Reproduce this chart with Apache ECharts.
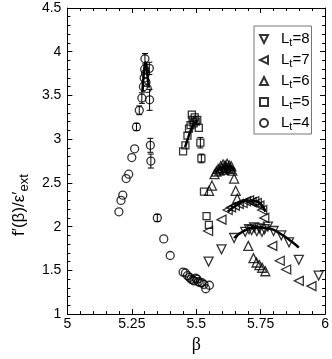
<!DOCTYPE html>
<html lang="en">
<head>
    <meta charset="UTF-8">
    <title>f'(beta)</title>
    <script type="text/javascript" src="https://cdn.jsdelivr.net/npm/echarts@6/dist/echarts.min.js"></script>
    <style>
        body { margin: 0; background: #fff; }
    </style>
</head>
<body>
<div id="main" style="width: 332px;height:359px;"></div>
<script>
    // points [beta, f'/eps']
    var lt4 = [[5.200, 2.17], [5.208, 2.30], [5.215, 2.36], [5.228, 2.55], [5.238, 2.60], [5.250, 2.79],
        [5.261, 2.89], [5.268, 3.14], [5.279, 3.33], [5.289, 3.47], [5.295, 3.60], [5.298, 3.70],
        [5.300, 3.80], [5.301, 3.92], [5.303, 3.75], [5.305, 3.65], [5.310, 3.58], [5.318, 3.81],
        [5.319, 3.45], [5.322, 2.93], [5.324, 2.75], [5.349, 2.10], [5.374, 1.86], [5.399, 1.67],
        [5.449, 1.48], [5.458, 1.47], [5.466, 1.44], [5.474, 1.42], [5.480, 1.40], [5.486, 1.39],
        [5.492, 1.38], [5.498, 1.41], [5.503, 1.40], [5.508, 1.37], [5.515, 1.36], [5.522, 1.36],
        [5.530, 1.34], [5.537, 1.29], [5.551, 1.33]];
    var lt5 = [[5.449, 2.86], [5.458, 2.93], [5.466, 3.04], [5.472, 3.12], [5.478, 3.16], [5.483, 3.28],
        [5.486, 3.22], [5.490, 3.18], [5.494, 3.25], [5.498, 3.20], [5.504, 3.22], [5.510, 3.13],
        [5.516, 2.96], [5.520, 2.78], [5.530, 2.40], [5.540, 2.12], [5.549, 2.02]];
    var lt6 = [[5.550, 2.41], [5.561, 2.47], [5.571, 2.60], [5.578, 2.63], [5.585, 2.66], [5.590, 2.64],
        [5.595, 2.69], [5.600, 2.67], [5.604, 2.71], [5.608, 2.65], [5.612, 2.70], [5.616, 2.68],
        [5.620, 2.72], [5.624, 2.67], [5.628, 2.70], [5.632, 2.66], [5.636, 2.69], [5.640, 2.64],
        [5.647, 2.55], [5.653, 2.41], [5.659, 2.32], [5.702, 1.78], [5.722, 1.64], [5.734, 1.59],
        [5.745, 1.56], [5.756, 1.53], [5.768, 1.49]];
    var lt7 = [[5.546, 1.95], [5.598, 2.08], [5.622, 2.19], [5.635, 2.22], [5.650, 2.24], [5.665, 2.26],
        [5.680, 2.27], [5.693, 2.29], [5.705, 2.30], [5.715, 2.28], [5.725, 2.29], [5.735, 2.27],
        [5.745, 2.24], [5.756, 2.19], [5.764, 2.10], [5.795, 1.78], [5.824, 1.61], [5.849, 1.51],
        [5.898, 1.38], [5.947, 1.32]];
    var lt8 = [[5.548, 1.60], [5.598, 1.74], [5.647, 1.87], [5.690, 1.94], [5.705, 1.97], [5.715, 1.96],
        [5.725, 1.99], [5.735, 1.95], [5.745, 1.98], [5.755, 1.94], [5.765, 1.97], [5.778, 2.00],
        [5.800, 1.95], [5.830, 1.90], [5.860, 1.82], [5.898, 1.62], [5.975, 1.44]];

    // fitted curves near the peaks
    var fit4 = [[5.291, 3.54], [5.297, 3.76], [5.303, 3.88], [5.309, 3.78], [5.316, 3.59]];
    var fit5 = [[5.457, 2.91], [5.470, 3.03], [5.483, 3.13], [5.495, 3.19], [5.506, 3.21]];
    var fit6 = [[5.575, 2.62], [5.595, 2.67], [5.615, 2.69], [5.635, 2.68], [5.650, 2.65]];
    var fit7 = [[5.622, 2.17], [5.659, 2.25], [5.696, 2.30], [5.733, 2.29], [5.769, 2.17]];
    var fit8 = [[5.647, 1.87], [5.684, 1.95], [5.733, 1.99], [5.782, 1.98], [5.831, 1.91], [5.870, 1.83], [5.898, 1.76]];

    // error bars [beta, low, high]
    var errBars = [[5.268, 3.10, 3.18], [5.279, 3.28, 3.38], [5.289, 3.41, 3.53], [5.301, 3.86, 3.98],
        [5.318, 3.74, 3.88], [5.319, 3.33, 3.57], [5.322, 2.85, 3.01], [5.324, 2.67, 2.83],
        [5.349, 2.06, 2.14], [5.516, 2.90, 3.02], [5.520, 2.73, 2.83]];

    var legendNames = ['L=8', 'L=7', 'L=6', 'L=5', 'L=4'];
    var symbols = [
        'path://M0,0L10,0L5,10Z',    // down
        'path://M10,0L10,10L0,5Z',   // left
        'path://M5,0L10,10L0,10Z',   // up
        'rect',
        'circle'
    ];

    var hollow = {color: 'rgba(0,0,0,0)', borderColor: '#000', borderWidth: 1.3};

    function pts(i, data, size) {
        return {
            name: legendNames[i], type: 'scatter', data: data, symbol: symbols[i],
            symbolSize: size, itemStyle: hollow, z: 3
        };
    }
    function fit(data) {
        return {
            type: 'line', data: data, showSymbol: false, smooth: true, silent: true,
            lineStyle: {color: '#000', width: 2.5}, z: 4
        };
    }

    var axisCommon = {
        min: 1, max: 4.5, interval: 0.5,
        axisLine: {lineStyle: {color: '#000', width: 1}},
        axisTick: {inside: true, length: 5, lineStyle: {color: '#000'}},
        minorTick: {show: true, splitNumber: 5, length: 3, lineStyle: {color: '#000'}},
        splitLine: {show: false}
    };

    var option = {
        animation: false,
        backgroundColor: '#fff',
        grid: {left: 54, right: 6, top: 8, bottom: 42},
        legend: {
            data: legendNames,
            orient: 'vertical',
            left: 254, top: 26,
            padding: [4, 2, 2, 5],
            itemGap: 3,
            itemWidth: 8, itemHeight: 8,
            borderColor: '#777', borderWidth: 1,
            backgroundColor: '#fff',
            formatter: function (n) {
                return '{a|L}{s|t}{a|' + n.slice(1) + '}';
            },
            textStyle: {
                padding: [0, 0, 0, 8],
                rich: {
                    a: {fontFamily: 'Liberation Sans', fontSize: 15, color: '#000', lineHeight: 15},
                    s: {fontFamily: 'Liberation Sans', fontSize: 11, color: '#000', lineHeight: 13, padding: [7, 0, 0, 0]}
                }
            }
        },
        xAxis: [{
            type: 'value', min: 5, max: 6, interval: 0.25,
            name: 'β', nameLocation: 'middle', nameGap: 15,
            nameTextStyle: {fontFamily: 'Liberation Serif', fontSize: 18, color: '#000'},
            axisLine: {lineStyle: {color: '#000', width: 1}},
            axisTick: {inside: true, length: 5, lineStyle: {color: '#000'}},
            minorTick: {show: true, splitNumber: 5, length: 3, lineStyle: {color: '#000'}},
            splitLine: {show: false},
            axisLabel: {fontFamily: 'Liberation Sans', fontSize: 14, color: '#000', margin: 3}
        }, {
            type: 'value', min: 5, max: 6, interval: 0.25, position: 'top',
            axisLine: {lineStyle: {color: '#000', width: 1}},
            axisTick: {inside: true, length: 5, lineStyle: {color: '#000'}},
            minorTick: {show: true, splitNumber: 5, length: 3, lineStyle: {color: '#000'}},
            splitLine: {show: false},
            axisLabel: {show: false}
        }],
        yAxis: [Object.assign({}, axisCommon, {
            type: 'value',
            name: "{a|f′(β)/ε′}{s|ext}", nameLocation: 'middle', nameGap: 32,
            nameTextStyle: {
                padding: [0, 88, 0, 0],
                rich: {
                    a: {fontFamily: 'Liberation Sans', fontSize: 17, color: '#000', lineHeight: 18},
                    s: {fontFamily: 'Liberation Sans', fontSize: 13, color: '#000', lineHeight: 18, padding: [10, 0, 0, 0]}
                }
            },
            axisLabel: {fontFamily: 'Liberation Sans', fontSize: 14, color: '#000', margin: 6}
        }), Object.assign({}, axisCommon, {
            type: 'value', position: 'right',
            axisLabel: {show: false}
        })],
        series: [
            pts(0, lt8, 9),
            pts(1, lt7, 9),
            pts(2, lt6, 9),
            pts(3, lt5, 7),
            pts(4, lt4, 8),
            fit(fit4), fit(fit5), fit(fit6), fit(fit7), fit(fit8),
            {
                type: 'custom', silent: true, z: 2,
                data: errBars,
                renderItem: function (params, api) {
                    var lo = api.coord([api.value(0), api.value(1)]);
                    var hi = api.coord([api.value(0), api.value(2)]);
                    var st = {stroke: '#000', lineWidth: 1};
                    return {
                        type: 'group', children: [
                            {type: 'line', shape: {x1: lo[0], y1: lo[1], x2: hi[0], y2: hi[1]}, style: st},
                            {type: 'line', shape: {x1: lo[0] - 3, y1: lo[1], x2: lo[0] + 3, y2: lo[1]}, style: st},
                            {type: 'line', shape: {x1: hi[0] - 3, y1: hi[1], x2: hi[0] + 3, y2: hi[1]}, style: st}
                        ]
                    };
                }
            }
        ]
    };

    var myChart = echarts.init(document.getElementById('main'));
    myChart.setOption(option);
</script>
</body>
</html>
